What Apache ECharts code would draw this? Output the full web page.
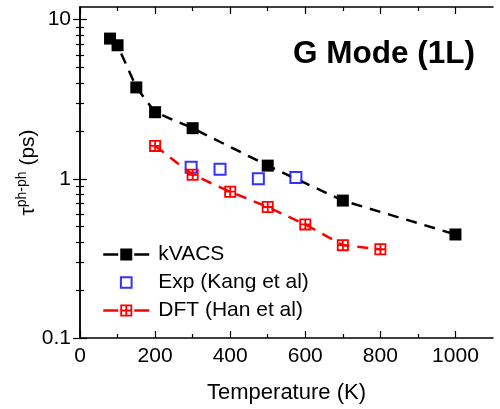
<!DOCTYPE html>
<html>
<head>
<meta charset="utf-8">
<script src="https://cdn.jsdelivr.net/npm/echarts@6/dist/echarts.min.js"></script>
<style>
  html, body { margin: 0; padding: 0; background: #fff; }
  #chart { width: 500px; height: 409px; }
</style>
</head>
<body>
<div id="chart"></div>
<script>
// kVACS
const kvacsT = [80, 100, 150, 200, 300, 500, 700, 1000];
const kvacsTau = [7.6, 6.9, 3.75, 2.62, 2.08, 1.21, 0.73, 0.447];
// Exp (Kang et al)
const expT = [296, 373, 475, 575];
const expTau = [1.18, 1.15, 1.0, 1.02];
// DFT (Han et al)
const dftT = [200, 300, 400, 500, 600, 700, 800];
const dftTau = [1.61, 1.06, 0.83, 0.665, 0.517, 0.383, 0.361];

const xMajor = [0, 200, 400, 600, 800, 1000];
const xMinor = [100, 300, 500, 700, 900];
const yMajor = [0.1, 1, 10];
const yMinor = [0.2, 0.3, 0.4, 0.5, 0.6, 0.7, 0.8, 0.9, 2, 3, 4, 5, 6, 7, 8, 9];

const font = "Liberation Sans";
const plainSquare = "path://M0,0h10v10h-10z";
// same square, padded so the legend icon comes out smaller
const legendSquare = "path://M-2,-2 M0,0h10v10h-10z M12,12";
const crossSquare =
  "path://M0,0h12v1.8h-12z M0,10.2h12v1.8h-12z M0,0h1.8v12h-1.8z M10.2,0h1.8v12h-1.8z M0,5.1h12v1.8h-12z M5.1,0h1.8v12h-1.8z";
const legendLine = { type: [15, 16], width: 2.5 };

const toPairs = (xs, ys) => xs.map((x, i) => [x, ys[i]]);

const chart = echarts.init(document.getElementById("chart"));

function xAxisDef(position, ticks, len, main) {
  return {
    type: "value",
    position: position,
    min: 0,
    max: 1100,
    name: main ? "Temperature (K)" : "",
    nameLocation: "middle",
    nameGap: 44,
    nameMoveOverlap: false,
    nameTextStyle: { fontFamily: font, fontSize: 22, color: "#000" },
    axisLine: { show: main !== null, lineStyle: { color: "#000", width: 1.5 } },
    axisTick: {
      show: true,
      inside: true,
      length: len,
      customValues: ticks,
      lineStyle: { color: "#000", width: 1.2 },
    },
    axisLabel: {
      show: !!main,
      customValues: xMajor,
      margin: 8,
      fontFamily: font,
      fontSize: 21,
      color: "#000",
      formatter: (v) => String(v),
    },
    splitLine: { show: false },
  };
}

function yAxisDef(position, ticks, len, main) {
  return {
    type: "log",
    logBase: 10,
    position: position,
    min: 0.1,
    max: 12,
    name: main ? "{t|τ}{s|ph-ph}{t| (ps)}" : "",
    nameLocation: "middle",
    nameRotate: 90,
    nameGap: 39,
    nameMoveOverlap: false,
    nameTextStyle: {
      fontFamily: font,
      color: "#000",
      rich: {
        t: { fontFamily: font, fontSize: 21, lineHeight: 26, color: "#000" },
        s: { fontFamily: font, fontSize: 14, verticalAlign: "top", color: "#000" },
      },
    },
    axisLine: { show: main !== null, lineStyle: { color: "#000", width: 1.5 } },
    axisTick: {
      show: true,
      inside: true,
      length: len,
      customValues: ticks,
      lineStyle: { color: "#000", width: 1.2 },
    },
    axisLabel: {
      show: !!main,
      customValues: yMajor,
      margin: 9,
      fontFamily: font,
      fontSize: 21,
      color: "#000",
      formatter: (v) => String(v),
    },
    splitLine: { show: false },
  };
}

const option = {
  backgroundColor: "#fff",
  animation: false,
  grid: { left: 80, right: 7, top: 7, bottom: 69 },
  title: {
    text: "G Mode (1L)",
    left: 293,
    top: 38,
    padding: 0,
    textStyle: { fontFamily: font, fontSize: 31.5, fontWeight: "bold", color: "#000" },
  },
  legend: {
    orient: "vertical",
    left: 102,
    top: 244,
    padding: 0,
    itemWidth: 46,
    itemHeight: 15,
    itemGap: 7,
    symbolKeepAspect: true,
    lineStyle: legendLine,
    textStyle: { fontFamily: font, fontSize: 21, color: "#000", padding: [0, 0, 0, 4] },
    data: [
      { name: "kVACS", lineStyle: legendLine },
      { name: "Exp (Kang et al)", icon: legendSquare },
      { name: "DFT (Han et al)", lineStyle: legendLine },
    ],
  },
  xAxis: [
    xAxisDef("bottom", xMajor, 7, true),
    xAxisDef("bottom", xMinor, 4, null),
    xAxisDef("top", xMajor, 7, false),
    xAxisDef("top", xMinor, 4, null),
  ],
  yAxis: [
    yAxisDef("left", yMajor, 7, true),
    yAxisDef("left", yMinor, 4, null),
    yAxisDef("right", yMajor, 7, false),
    yAxisDef("right", yMinor, 4, null),
  ],
  series: [
    {
      name: "kVACS",
      type: "line",
      data: toPairs(kvacsT, kvacsTau),
      symbol: "rect",
      symbolSize: 12,
      itemStyle: { color: "#000" },
      lineStyle: { color: "#000", width: 2.5, type: [11, 8] },
      z: 3,
    },
    {
      name: "Exp (Kang et al)",
      type: "scatter",
      data: toPairs(expT, expTau),
      symbol: plainSquare,
      symbolSize: 11,
      itemStyle: { color: "#fff", borderColor: "#0000ff", borderWidth: 2 },
      z: 4,
    },
    {
      name: "DFT (Han et al)",
      type: "line",
      data: toPairs(dftT, dftTau),
      symbol: crossSquare,
      symbolSize: 12,
      itemStyle: { color: "#ff0000" },
      lineStyle: { color: "#ff0000", width: 2.5, type: [11, 8] },
      z: 5,
    },
  ],
};

chart.setOption(option);
</script>
</body>
</html>
